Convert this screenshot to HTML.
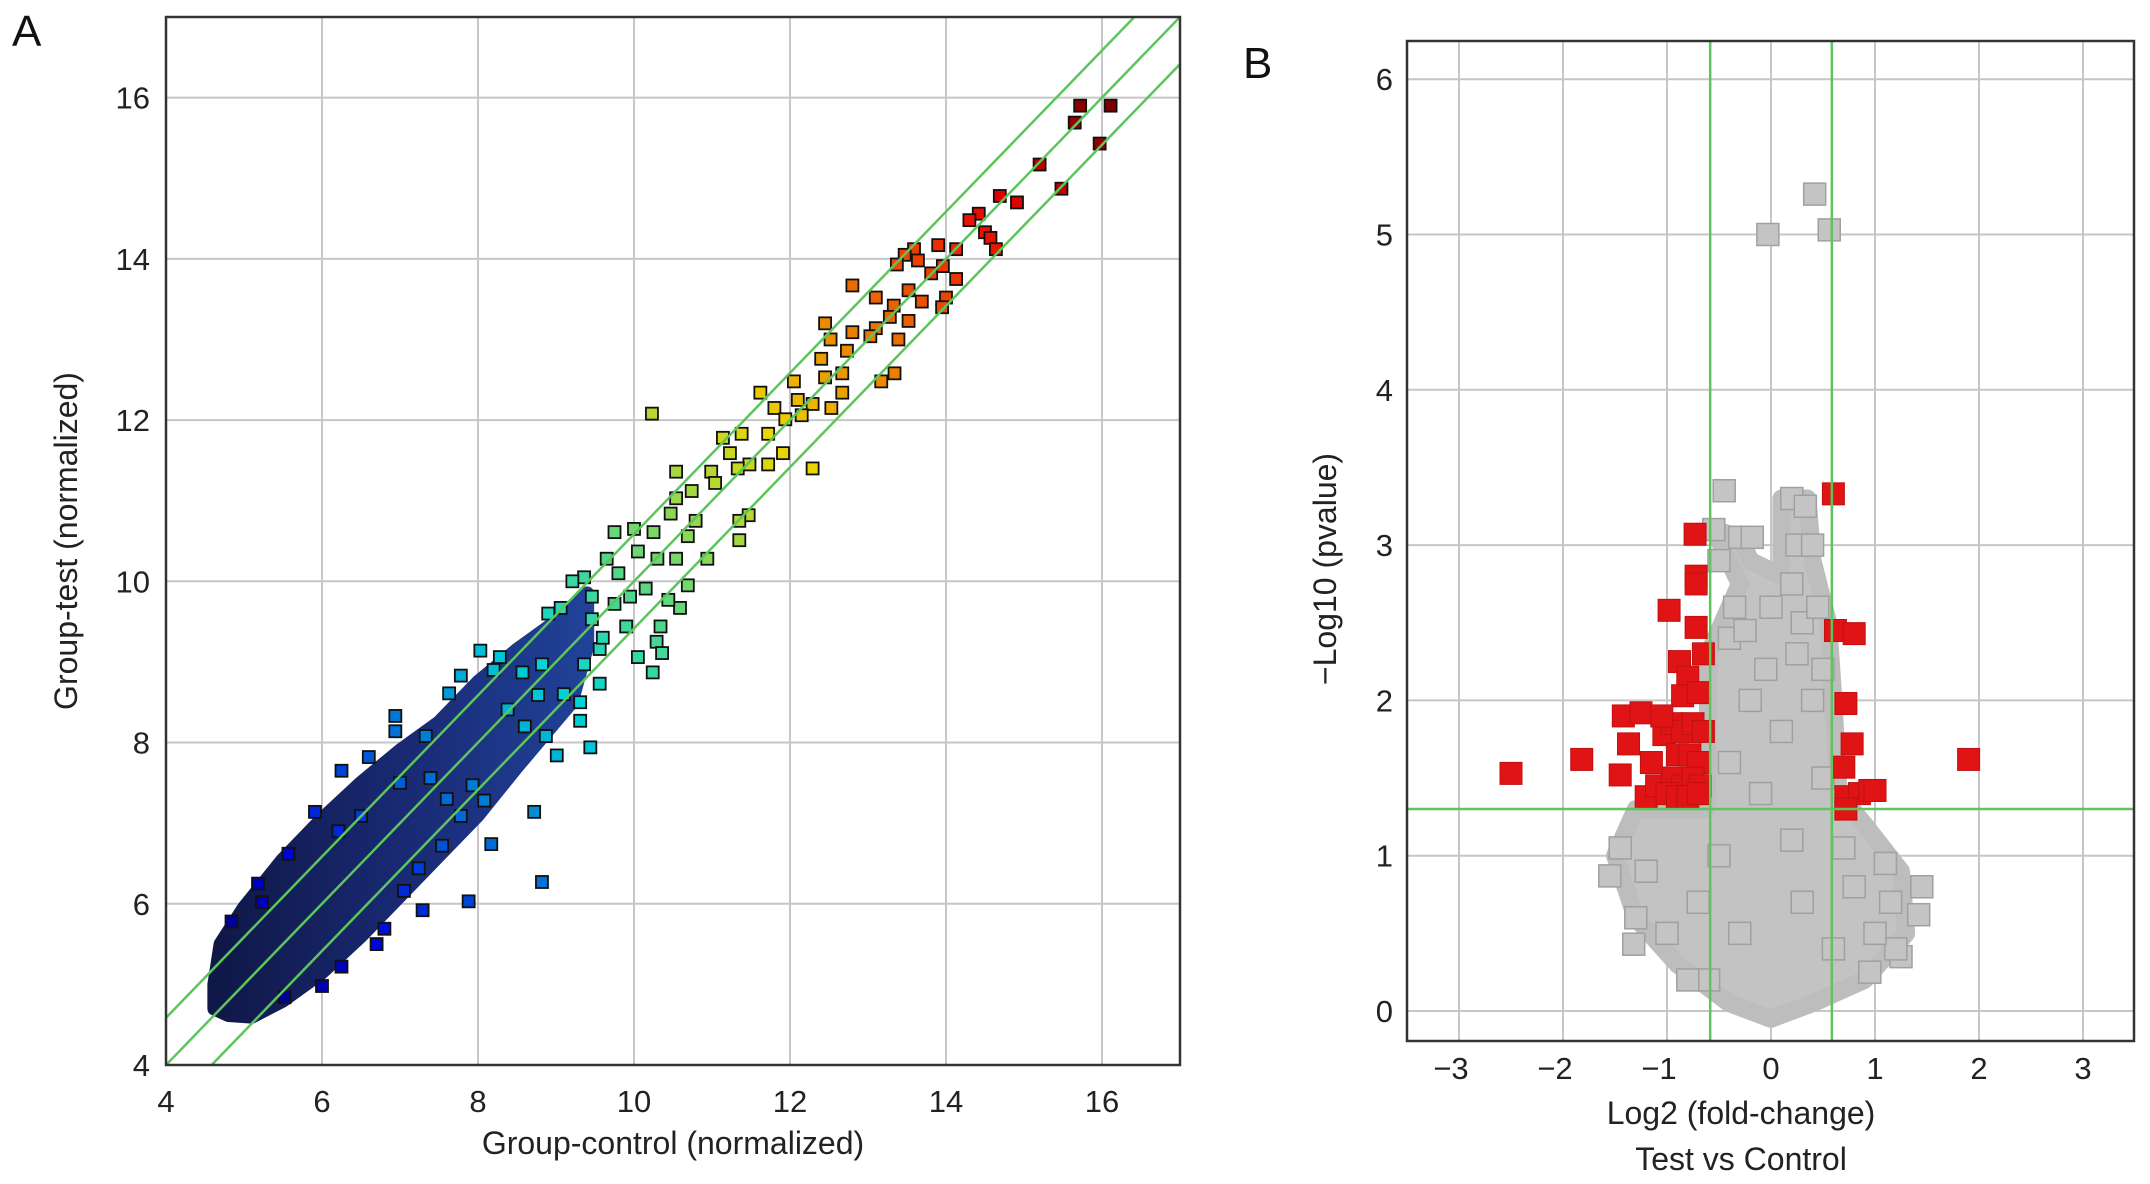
<!DOCTYPE html>
<html><head><meta charset="utf-8"><style>
html,body{margin:0;padding:0;background:#fff;}
svg{display:block;font-family:"Liberation Sans",sans-serif;}
</style></head><body>
<svg id="chart" width="2150" height="1184" viewBox="0 0 2150 1184" xmlns="http://www.w3.org/2000/svg">
<defs>
<clipPath id="clipA"><rect x="166" y="17" width="1014" height="1048"/></clipPath>
<clipPath id="clipB"><rect x="1407" y="41" width="727" height="1000"/></clipPath>
<linearGradient id="cloudGrad" gradientUnits="userSpaceOnUse" x1="220" y1="0" x2="900" y2="0">
<stop offset="0" stop-color="#101848"/><stop offset="0.3" stop-color="#1a2c78"/><stop offset="0.6" stop-color="#2248a0"/><stop offset="0.85" stop-color="#2a78c4"/><stop offset="1" stop-color="#40a8d0"/>
</linearGradient>
</defs>
<g id="panelA"></g>
<g id="panelB"></g>
</svg>
<script>
const NS="http://www.w3.org/2000/svg";
// ---- Panel A data ----
const aXTicks=[4,6,8,10,12,14,16];
const aYTicks=[4,6,8,10,12,14,16];
const aFoldOffsets=[-0.585,0,0.585];
const aCloudX=[4.62,4.7,5.0,5.5,6.0,6.5,7.0,7.5,8.0,8.5,9.0,9.4,9.4,9.2,8.5,8.0,7.5,7.0,6.5,6.0,5.5,5.1,4.8,4.62];
const aCloudY=[5.0,5.5,5.95,6.55,7.05,7.5,7.9,8.25,8.75,9.15,9.5,9.85,9.2,8.5,7.7,7.1,6.6,6.1,5.6,5.15,4.8,4.6,4.62,4.7];
const aPointsX=[15.72,16.11,15.65,15.97,15.2,15.48,14.91,14.69,14.42,14.3,14.5,14.57,14.64,14.13,13.9,13.59,13.47,13.64,13.37,13.81,13.96,14.13,13.69,13.52,14.0,13.95,12.8,13.1,13.33,13.28,13.52,13.39,13.1,13.03,12.8,12.45,12.52,12.73,12.4,12.67,12.45,12.53,12.67,13.34,13.17,12.29,12.05,12.1,11.8,12.15,11.94,11.62,10.23,11.72,11.91,11.38,11.72,11.48,11.14,11.23,10.99,11.33,11.04,12.29,10.54,10.74,10.54,10.47,10.79,10.69,11.47,11.35,11.35,10.94,10.25,10.0,9.75,10.05,10.3,10.54,10.69,10.59,9.65,9.36,9.21,9.46,9.75,9.95,10.15,10.34,10.29,10.36,10.24,10.44,9.06,9.9,9.56,9.36,9.56,9.31,8.82,8.03,7.78,8.28,8.57,7.63,7.33,6.94,6.94,6.6,6.25,5.91,8.72,8.82,7.88,8.17,9.44,9.31,9.01,8.87,7.93,8.08,7.78,7.54,7.24,7.05,7.29,6.8,6.7,6.25,6.0,5.52,4.84,5.23,5.57,5.18,6.21,6.5,7.39,8.38,8.77,9.46,10.05,8.9,9.1,9.6,9.8,8.6,8.2,7.6,7.0];
const aPointsY=[15.9,15.9,15.69,15.43,15.17,14.87,14.7,14.78,14.56,14.48,14.33,14.26,14.12,14.12,14.17,14.12,14.05,13.98,13.93,13.82,13.91,13.75,13.47,13.61,13.52,13.4,13.67,13.52,13.42,13.28,13.23,13.0,13.14,13.04,13.09,13.2,13.0,12.86,12.76,12.58,12.53,12.15,12.34,12.58,12.48,12.2,12.48,12.25,12.15,12.06,12.01,12.34,12.08,11.83,11.59,11.83,11.45,11.45,11.78,11.59,11.36,11.4,11.22,11.4,11.36,11.12,11.03,10.84,10.75,10.56,10.82,10.75,10.51,10.28,10.61,10.65,10.61,10.37,10.28,10.28,9.95,9.67,10.28,10.05,10.0,9.81,9.72,9.81,9.91,9.44,9.25,9.11,8.87,9.77,9.67,9.44,9.16,8.97,8.73,8.5,8.97,9.14,8.83,9.06,8.87,8.61,8.08,8.33,8.14,7.82,7.65,7.14,7.14,6.27,6.03,6.74,7.94,8.27,7.84,8.08,7.47,7.28,7.09,6.72,6.44,6.16,5.92,5.69,5.5,5.22,4.98,4.84,5.78,6.02,6.62,6.25,6.9,7.09,7.56,8.41,8.59,9.53,9.06,9.6,8.6,9.3,10.1,8.2,8.9,7.3,7.5];
// ---- Panel B data ----
const bXTicks=[-3,-2,-1,0,1,2,3];
const bYTicks=[0,1,2,3,4,5,6];
const bFoldCut=[-0.585,0.585];
const bPCut=[1.301];
const bCloudX=[-0.55,-0.3,-0.6,-0.62,-1.3,-1.5,-1.3,-0.9,-0.4,0,0.4,0.9,1.3,1.25,0.9,0.65,0.6,0.55,0.4,0.35,0.1,0.1,-0.2,-0.3];
const bCloudY=[3.1,2.75,2.3,1.3,1.3,1.0,0.6,0.3,0.05,-0.05,0.05,0.2,0.5,0.9,1.2,1.4,2.0,2.5,2.9,3.3,3.3,2.8,2.9,3.05];
const bGrayX=[0.42,-0.03,0.56,-0.45,0.2,0.33,-0.3,-0.18,-0.55,0.25,0.4,-0.5,0.2,-1.55,-1.32,1.45,1.42,1.25,1.2,0.95,-1.3,-1.45,-0.6,0.7,1.1,1.15,1.0,-1.2,-1.0,-0.8,0.3,0.0,-0.35,0.5,-0.4,0.4,-0.2,0.1,-0.4,0.5,-0.1,0.2,-0.5,0.3,-0.3,0.6,-0.7,0.8,0.25,-0.05,0.45,-0.25];
const bGrayY=[5.26,5.0,5.03,3.35,3.3,3.25,3.05,3.05,3.1,3.0,3.0,2.9,2.75,0.87,0.43,0.8,0.62,0.35,0.4,0.25,0.6,1.05,0.2,1.05,0.95,0.7,0.5,0.9,0.5,0.2,2.5,2.6,2.6,2.2,2.4,2.0,2.0,1.8,1.6,1.5,1.4,1.1,1.0,0.7,0.5,0.4,0.7,0.8,2.3,2.2,2.6,2.45];
const bRedX=[-2.5,-1.82,-1.45,-1.37,-1.42,-1.25,-1.2,-1.1,-1.03,-0.98,-0.73,-0.72,-0.72,-0.72,-0.65,-0.88,-0.8,-0.85,-0.7,-0.95,-0.85,-0.75,-0.65,-0.9,-0.78,-0.7,-0.95,-0.85,-0.75,-0.68,-1.0,-0.9,-0.8,-0.7,-1.15,-1.05,0.6,0.62,0.8,0.72,0.78,0.7,0.72,0.85,0.95,1.0,1.9,0.72];
const bRedY=[1.53,1.62,1.52,1.72,1.9,1.92,1.38,1.45,1.78,2.58,3.07,2.8,2.75,2.47,2.3,2.25,2.15,2.03,2.05,1.85,1.8,1.85,1.8,1.65,1.65,1.6,1.5,1.45,1.5,1.45,1.4,1.38,1.38,1.4,1.6,1.9,3.33,2.45,2.43,1.98,1.72,1.57,1.38,1.4,1.42,1.42,1.62,1.3];

const svg=document.getElementById('chart');
const gA=document.getElementById('panelA');
const gB=document.getElementById('panelB');
function mk(tag,attrs,parent){const e=document.createElementNS(NS,tag);for(const k in attrs)e.setAttribute(k,attrs[k]);parent.appendChild(e);return e;}
function txt(s,attrs,parent){const e=mk('text',attrs,parent);e.textContent=s;return e;}

const AX0=166,AX1=1180,AY0=1065,AY1=17;
const ax=v=>AX0+(v-4)/13*(AX1-AX0);
const ay=v=>AY0-(v-4)/13*(AY0-AY1);
function jet(t){t=Math.max(0,Math.min(1,t));
 const r=Math.max(0,Math.min(1,1.5-Math.abs(4*t-3))),g=Math.max(0,Math.min(1,1.5-Math.abs(4*t-2))),b=Math.max(0,Math.min(1,1.5-Math.abs(4*t-1)));
 return `rgb(${Math.round(r*235)},${Math.round(g*215)},${Math.round(b*215)})`;}

for(const t of aXTicks){const l=mk('line',{x1:ax(t),x2:ax(t),y1:AY1,y2:AY0,stroke:'#c6c6c6','stroke-width':2},gA);


const s=txt(String(t),{x:ax(t),y:1112,'font-size':31,'text-anchor':'middle',fill:'#222'},gA);

}
for(const t of aYTicks){const l=mk('line',{x1:AX0,x2:AX1,y1:ay(t),y2:ay(t),stroke:'#c6c6c6','stroke-width':2},gA);


const s=txt(String(t),{x:150,y:ay(t)+11,'font-size':31,'text-anchor':'end',fill:'#222'},gA);

}
const clipA=mk('g',{'clip-path':'url(#clipA)'},gA);
let pts=aCloudX.map((x,i)=>ax(x)+','+ay(aCloudY[i])).join(' ');
const cloud=mk('polygon',{points:pts,fill:'url(#cloudGrad)',stroke:'url(#cloudGrad)','stroke-width':14,'stroke-linejoin':'round'},clipA);


for(let i=0;i<aPointsX.length;i++){const x=aPointsX[i],y=aPointsY[i];
 const r=mk('rect',{x:ax(x)-6,y:ay(y)-6,width:12,height:12,fill:jet(((x+y)/2-4.6)/11.5),stroke:'#111','stroke-width':1.8},clipA);
 
 }
for(const o of aFoldOffsets){const l=mk('line',{x1:ax(4),y1:ay(4+o),x2:ax(17),y2:ay(17+o),stroke:'#5cc55c','stroke-width':2.5},clipA);

}
const frA=mk('rect',{x:AX0,y:AY1,width:AX1-AX0,height:AY0-AY1,fill:'none',stroke:'#333','stroke-width':2.5},gA);


let t1=txt('Group-control (normalized)',{x:673,y:1154,'font-size':32,'text-anchor':'middle',fill:'#222'},gA);


let t2=txt('Group-test (normalized)',{x:0,y:0,'font-size':32,'text-anchor':'middle',fill:'#222',transform:'translate(77,541) rotate(-90)'},gA);


let t3=txt('A',{x:12,y:46,'font-size':44,fill:'#111'},gA);



const BX0=1407,BX1=2134,BY0=1041,BY1=41;
const bx=v=>1771+v*104;
const by=v=>1011-v*155.3;
for(const t of bXTicks){const l=mk('line',{x1:bx(t),x2:bx(t),y1:BY1,y2:BY0,stroke:'#c6c6c6','stroke-width':2},gB);


const s=txt(t<0?'\u2212'+(-t):String(t),{x:bx(t)-(t<0?8:0),y:1079,'font-size':31,'text-anchor':'middle',fill:'#222'},gB);

}
for(const t of bYTicks){const l=mk('line',{x1:BX0,x2:BX1,y1:by(t),y2:by(t),stroke:'#c6c6c6','stroke-width':2},gB);


const s=txt(String(t),{x:1393,y:by(t)+11,'font-size':31,'text-anchor':'end',fill:'#222'},gB);

}
const clipB=mk('g',{'clip-path':'url(#clipB)'},gB);
pts=bCloudX.map((x,i)=>bx(x)+','+by(bCloudY[i])).join(' ');
const cb=mk('polygon',{points:pts,fill:'#c3c3c3',stroke:'#bdbdbd','stroke-width':18,'stroke-linejoin':'round'},clipB);


for(let i=0;i<bGrayX.length;i++){const r=mk('rect',{x:bx(bGrayX[i])-11,y:by(bGrayY[i])-11,width:22,height:22,fill:'#c4c4c4',stroke:'#a0a0a0','stroke-width':1.5},clipB);

}
for(let i=0;i<bRedX.length;i++){const r=mk('rect',{x:bx(bRedX[i])-11,y:by(bRedY[i])-11,width:22,height:22,fill:'#e01414',stroke:'#c01010','stroke-width':1},clipB);

}
for(const c of bFoldCut){const l=mk('line',{x1:bx(c),x2:bx(c),y1:BY1,y2:BY0,stroke:'#5cc55c','stroke-width':2.5},clipB);

}
for(const c of bPCut){const l=mk('line',{x1:BX0,x2:BX1,y1:by(c),y2:by(c),stroke:'#5cc55c','stroke-width':2.5},clipB);

}
const frB=mk('rect',{x:BX0,y:BY1,width:BX1-BX0,height:BY0-BY1,fill:'none',stroke:'#333','stroke-width':2.5},gB);


let u1=txt('Log2 (fold-change)',{x:1741,y:1124,'font-size':32,'text-anchor':'middle',fill:'#222'},gB);


let u2=txt('Test vs Control',{x:1741,y:1170,'font-size':32,'text-anchor':'middle',fill:'#222'},gB);


let u3=txt('\u2212Log10 (pvalue)',{x:0,y:0,'font-size':32,'text-anchor':'middle',fill:'#222',transform:'translate(1336,569) rotate(-90)'},gB);


let u4=txt('B',{x:1243,y:78,'font-size':44,fill:'#111'},gB);


</script>
</body></html>
